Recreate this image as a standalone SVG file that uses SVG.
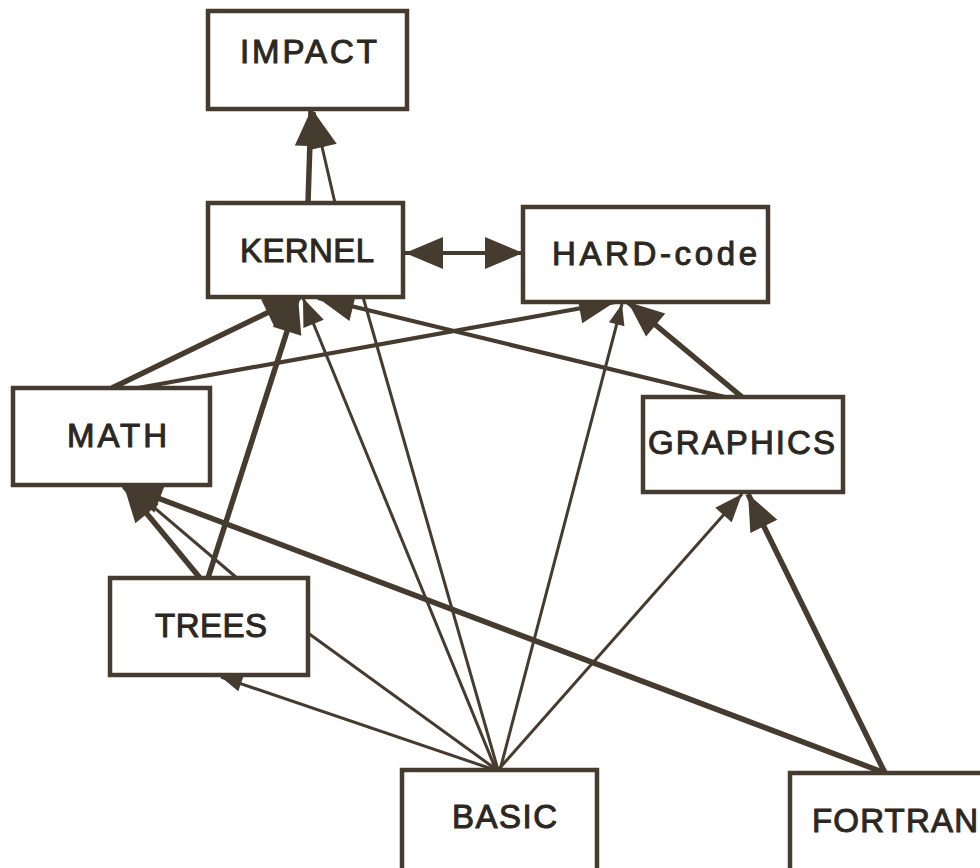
<svg xmlns="http://www.w3.org/2000/svg" width="980" height="868" viewBox="0 0 980 868">
  <style>
    .box { fill: #ffffff; stroke: #463b2f; stroke-width: 4.5; }
    .lbl { font-family: "Liberation Sans", Arial, sans-serif; font-size: 33px; fill: #2c2721; stroke: #2c2721; stroke-width: 1; }
    .edge { fill: none; stroke: #463b2f; stroke-linecap: butt; }
    .thick { stroke-width: 5.5; }
    .med { stroke-width: 4.2; }
    .thin { stroke-width: 3; }
    .head { fill: #463b2f; }
  </style>
  <defs>
    <marker id="big" markerUnits="userSpaceOnUse" orient="auto" refX="36" refY="0" overflow="visible">
      <path class="head" d="M0,-15 L36,0 L0,15 z"/>
    </marker>
    <marker id="mid" markerUnits="userSpaceOnUse" orient="auto" refX="28" refY="0" overflow="visible">
      <path class="head" d="M0,-11 L28,0 L0,11 z"/>
    </marker>
    <marker id="small" markerUnits="userSpaceOnUse" orient="auto" refX="21" refY="0" overflow="visible">
      <path class="head" d="M0,-8 L21,0 L0,8 z"/>
    </marker>
    <marker id="dbl" markerUnits="userSpaceOnUse" orient="auto-start-reverse" refX="38" refY="0" overflow="visible">
      <path class="head" d="M0,-16 L38,0 L0,16 z"/>
    </marker>
  </defs>

  <rect width="980" height="868" fill="#ffffff"/>

  <g id="connectors">
    <!-- KERNEL up to IMPACT -->
    <line class="edge thick" x1="308" y1="203" x2="311" y2="110" marker-end="url(#big)"/>
    <line class="edge thin" x1="335" y1="203" x2="314" y2="112" marker-end="url(#big)"/>
    <!-- KERNEL <-> HARD-code -->
    <line class="edge med" x1="405" y1="253" x2="523" y2="253" marker-start="url(#dbl)" marker-end="url(#dbl)"/>
    <!-- into KERNEL -->
    <line class="edge thick" x1="112" y1="388" x2="300" y2="297" marker-end="url(#big)"/>
    <line class="edge thick" x1="208" y1="578" x2="298" y2="297" marker-end="url(#big)"/>
    <line class="edge thin" x1="496" y1="770" x2="303" y2="298" marker-end="url(#mid)"/>
    <line class="edge med" x1="725" y1="397" x2="318" y2="298" marker-end="url(#big)"/>
    <line class="edge thin" x1="363" y1="297" x2="498" y2="770"/>
    <!-- into HARD-code -->
    <line class="edge med" x1="138" y1="388" x2="615" y2="302" marker-end="url(#big)"/>
    <line class="edge thin" x1="500" y1="770" x2="622" y2="304" marker-end="url(#small)"/>
    <line class="edge thick" x1="742" y1="397" x2="628" y2="302" marker-end="url(#big)"/>
    <!-- into MATH -->
    <line class="edge thick" x1="200" y1="578" x2="124" y2="486" marker-end="url(#big)"/>
    <line class="edge thin" x1="237" y1="578" x2="130" y2="487" marker-end="url(#mid)"/>
    <line class="edge thick" x1="885" y1="773" x2="126" y2="486" marker-end="url(#big)"/>
    <!-- into GRAPHICS -->
    <line class="edge thin" x1="498" y1="770" x2="742" y2="494" marker-end="url(#mid)"/>
    <line class="edge thick" x1="885" y1="773" x2="748" y2="494" marker-end="url(#big)"/>
    <!-- BASIC and TREES -->
    <line class="edge thin" x1="495" y1="770" x2="221" y2="677" marker-end="url(#small)"/>
    <line class="edge thin" x1="308" y1="633" x2="497" y2="770"/>
  </g>

  <g id="impact">
    <rect class="box" x="208" y="11" width="199" height="98"/>
    <text class="lbl" x="240" y="63" textLength="137" lengthAdjust="spacing">IMPACT</text>
  </g>
  <g id="kernel">
    <rect class="box" x="208" y="203" width="195" height="94"/>
    <text class="lbl" x="240" y="262" textLength="134" lengthAdjust="spacing">KERNEL</text>
  </g>
  <g id="hard-code">
    <rect class="box" x="523" y="207" width="245" height="95"/>
    <text class="lbl" x="552" y="265" textLength="205" lengthAdjust="spacing">HARD-code</text>
  </g>
  <g id="math">
    <rect class="box" x="13" y="388" width="197" height="97"/>
    <text class="lbl" x="67" y="447" textLength="100" lengthAdjust="spacing">MATH</text>
  </g>
  <g id="graphics">
    <rect class="box" x="643" y="397" width="200" height="95"/>
    <text class="lbl" x="648" y="454" textLength="187" lengthAdjust="spacing">GRAPHICS</text>
  </g>
  <g id="trees">
    <rect class="box" x="110" y="578" width="198" height="97"/>
    <text class="lbl" x="155" y="637" textLength="112" lengthAdjust="spacing">TREES</text>
  </g>
  <g id="basic">
    <rect class="box" x="402" y="770" width="195" height="105"/>
    <text class="lbl" x="452" y="828" textLength="105" lengthAdjust="spacing">BASIC</text>
  </g>
  <g id="fortran">
    <rect class="box" x="790" y="773" width="210" height="105"/>
    <text class="lbl" x="812" y="832" textLength="166" lengthAdjust="spacing">FORTRAN</text>
  </g>
</svg>
